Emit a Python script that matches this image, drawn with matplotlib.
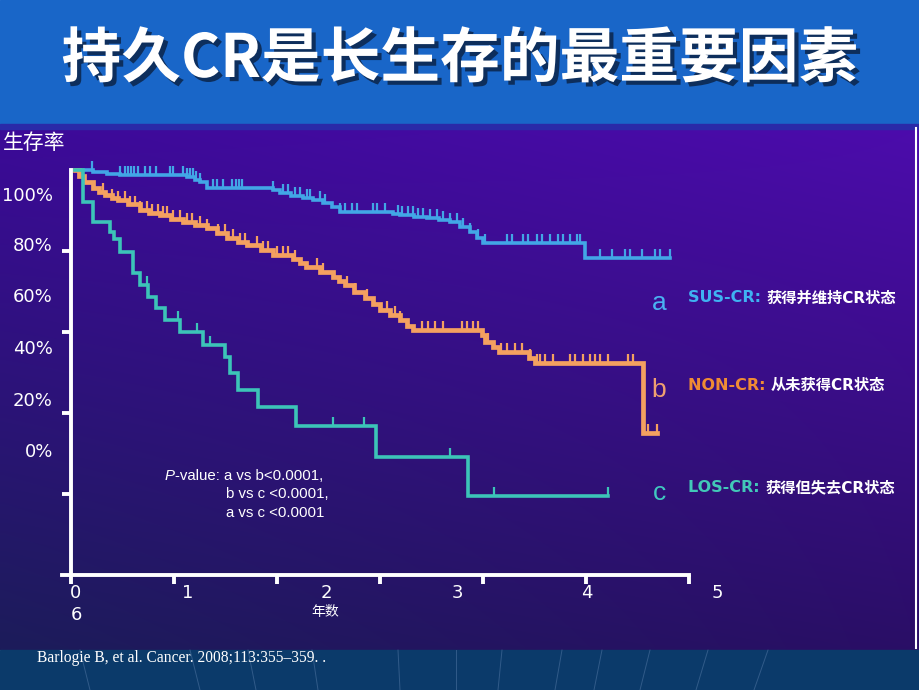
import numpy as np
import matplotlib
matplotlib.use("Agg")
import matplotlib.pyplot as plt
import matplotlib.patheffects as pe
from matplotlib.colors import to_rgb
from matplotlib.patches import Rectangle

plt.rcParams['font.family'] = ['DejaVu Sans', 'Noto Sans CJK SC']

W, H = 920, 690

# --- data (x in years on the tick scale, y = survival fraction) ---
sus_t = [0.04, 0.21, 0.35, 0.48, 1.13, 1.20, 1.25, 1.32, 1.96, 2.03, 2.14, 2.25, 2.35, 2.45,
         2.53, 2.61, 3.13, 3.19, 3.33, 3.46, 3.57, 3.68, 3.78, 3.87, 3.94, 4.00, 4.99, 5.82]
sus_s = [1.000, 0.995, 0.991, 0.988, 0.982, 0.976, 0.970, 0.956, 0.950, 0.943, 0.937, 0.931, 0.925, 0.919,
         0.908, 0.896, 0.892, 0.889, 0.885, 0.881, 0.877, 0.872, 0.860, 0.847, 0.833, 0.820, 0.783, 0.783]
sus_cens = [0.20, 0.48, 0.52, 0.55, 0.58, 0.61, 0.65, 0.72, 0.77, 0.83, 0.96, 0.99, 1.09, 1.13, 1.16,
            1.18, 1.21, 1.25, 1.38, 1.42, 1.48, 1.56, 1.60, 1.63, 1.66, 1.96, 2.06, 2.11, 2.17, 2.22,
            2.29, 2.32, 2.42, 2.47, 2.61, 2.66, 2.73, 2.78, 2.93, 2.97, 3.05, 3.17, 3.21, 3.27, 3.32,
            3.37, 3.42, 3.49, 3.55, 3.61, 3.68, 3.75, 3.81, 3.87, 3.95, 4.02, 4.23, 4.28, 4.39, 4.44,
            4.52, 4.57, 4.65, 4.73, 4.78, 4.84, 4.91, 4.94, 5.14, 5.25, 5.38, 5.43, 5.54, 5.67, 5.72, 5.82]

non_t = [0.04, 0.08, 0.13, 0.21, 0.27, 0.33, 0.40, 0.46, 0.55, 0.67, 0.76, 0.86, 0.97, 1.09, 1.20,
         1.32, 1.42, 1.51, 1.62, 1.71, 1.84, 1.96, 2.16, 2.22, 2.28, 2.42, 2.54, 2.60, 2.66, 2.75,
         2.85, 2.93, 3.00, 3.10, 3.19, 3.26, 3.32, 3.99, 4.02, 4.10, 4.16, 4.45, 4.50, 5.55, 5.69]
non_s = [1.000, 0.985, 0.970, 0.955, 0.945, 0.938, 0.932, 0.926, 0.915, 0.901, 0.895, 0.889, 0.880, 0.872, 0.865,
         0.857, 0.845, 0.832, 0.822, 0.815, 0.802, 0.790, 0.780, 0.770, 0.760, 0.748, 0.736, 0.726, 0.716, 0.700,
         0.684, 0.670, 0.654, 0.642, 0.630, 0.615, 0.605, 0.592, 0.575, 0.563, 0.551, 0.537, 0.523, 0.351, 0.351]
non_cens = [0.31, 0.40, 0.46, 0.52, 0.57, 0.62, 0.67, 0.74, 0.79, 0.84, 0.89, 0.93, 0.99, 1.06, 1.13,
            1.17, 1.25, 1.32, 1.43, 1.50, 1.57, 1.64, 1.69, 1.81, 1.86, 1.91, 2.00, 2.06, 2.11, 2.17,
            2.39, 2.45, 2.68, 2.76, 2.87, 3.07, 3.15, 3.19, 3.41, 3.47, 3.53, 3.61, 3.80, 3.84, 3.90,
            3.95, 4.05, 4.17, 4.23, 4.31, 4.38, 4.46, 4.52, 4.55, 4.60, 4.68, 4.84, 4.89, 4.97, 5.04,
            5.09, 5.14, 5.21, 5.41, 5.46, 5.60, 5.69]

los_t = [0.04, 0.12, 0.21, 0.38, 0.42, 0.48, 0.60, 0.67, 0.75, 0.83, 0.91, 1.06, 1.28, 1.50,
         1.54, 1.62, 1.82, 2.18, 2.96, 3.85, 5.21]
los_s = [1.000, 0.921, 0.872, 0.847, 0.830, 0.798, 0.746, 0.716, 0.686, 0.659, 0.630, 0.600, 0.568, 0.538,
         0.499, 0.457, 0.415, 0.368, 0.291, 0.195, 0.195]
los_cens = [0.74, 1.04, 1.22, 1.35, 1.50, 2.18, 2.54, 2.84, 3.68, 4.11, 5.21]

title = '持久CR是长生存的最重要因素'
y_labels = ['100%', '80%', '60%', '40%', '20%', '0%']
x_labels = ['0', '1', '2', '3', '4', '5']
groups = [('a', 'SUS-CR: ', '获得并维持CR状态'),
          ('b', 'NON-CR: ', '从未获得CR状态'),
          ('c', 'LOS-CR: ', '获得但失去CR状态')]

# --- layout (pixel positions of the slide) ---
X0, XS, Y0, YS = 71, 103, 575, 405
y_label_py = [196, 246, 297, 349, 401, 452]
x_label_px = [76, 188, 326, 457, 587, 717]
curve_col = ['#42a6e6', '#f4a060', '#3cc4b8']
key_col = ['#3fb2f2', '#f08c34', '#42c8b8']
letter_col = ['#4ab2f2', '#f0a070', '#40c8c0']
group_py = [300, 387, 490]


def fx(px):
    return px / W


def fy(py):
    return 1 - py / H


fig = plt.figure(figsize=(W / 100, H / 100), dpi=100)

# background
bg = fig.add_axes([0, 0, 1, 1], zorder=0)
bg.set_xlim(0, W)
bg.set_ylim(H, 0)
bg.axis('off')
c_tl, c_tr = np.array(to_rgb('#3c0a98')), np.array(to_rgb('#4c0cac'))
c_bl, c_br = np.array(to_rgb('#1c1c5a')), np.array(to_rgb('#2a0e66'))
u = np.linspace(0, 1, 120)[None, :, None]
v = np.linspace(0, 1, 120)[:, None, None]
img = (1 - u) * (1 - v) * c_tl + u * (1 - v) * c_tr + (1 - u) * v * c_bl + u * v * c_br
bg.imshow(img, extent=(0, W, 650, 128), aspect='auto', interpolation='bilinear')
bg.add_patch(Rectangle((0, 0), W, 124, color='#1966c8'))
bg.add_patch(Rectangle((0, 124), W, 5, color='#2a2aa8'))
bg.add_patch(Rectangle((0, 650), W, 40, color='#0b3a6a'))
for xt, xb in [(80, 90), (190, 200), (248, 256), (312, 318), (398, 400), (456, 456),
               (502, 498), (562, 555), (602, 594), (650, 640), (708, 696), (768, 754)]:
    bg.plot([xt, xb], [650, 690], color='#6a8cb8', lw=0.7, alpha=0.4)
bg.plot([916, 916], [128, 648], color='white', lw=1.5)

# title
fig.text(0.5, fy(60), title, ha='center', va='center', color='white', fontsize=43,
         fontweight='bold', family=['Noto Sans CJK SC'],
         path_effects=[pe.SimplePatchShadow(offset=(3, -3), shadow_rgbFace='#0c2850', alpha=0.9),
                       pe.Normal()])

# chart axes
ax = fig.add_axes([0, 0, 1, 1], zorder=1)
ax.patch.set_alpha(0)
ax.set_xlim(-X0 / XS, (W - X0) / XS)
ax.set_ylim((Y0 - H) / YS, Y0 / YS)
for s in ['top', 'right']:
    ax.spines[s].set_visible(False)
ax.spines['left'].set_position(('data', 0))
ax.spines['left'].set_bounds(0, 1.0)
ax.spines['bottom'].set_position(('data', 0))
ax.spines['bottom'].set_bounds(-0.09, 6.0)
for s in ['left', 'bottom']:
    ax.spines[s].set_color('white')
    ax.spines[s].set_linewidth(2.8)
ax.set_xticks(range(7))
ax.set_yticks([0.2, 0.4, 0.6, 0.8])
ax.tick_params(colors='white', width=2.8, length=6.5, direction='out',
               labelleft=False, labelbottom=False)


def km(t, s, cens, color, lw):
    t = np.asarray(t)
    s = np.asarray(s)
    ax.step(t, s, where='post', color=color, lw=lw, solid_joinstyle='miter')
    idx = np.searchsorted(t, cens, side='right') - 1
    ys = s[idx]
    ax.vlines(cens, ys, ys + 0.022, color=color, lw=1.6)


km(sus_t, sus_s, sus_cens, curve_col[0], 2.6)
km(non_t, non_s, non_cens, curve_col[1], 3.4)
km(los_t, los_s, los_cens, curve_col[2], 2.6)

# axis labels
for lab, py in zip(y_labels, y_label_py):
    fig.text(fx(53), fy(py), lab, ha='right', va='center', color='white', fontsize=13)
for lab, px in zip(x_labels, x_label_px):
    fig.text(fx(px), fy(593), lab, ha='center', va='center', color='white', fontsize=13)
fig.text(fx(76), fy(615), '6', ha='center', va='center', color='white', fontsize=13)
fig.text(fx(325), fy(612), '年数', ha='center', va='center', color='white', fontsize=10)
fig.text(fx(3), fy(143), '生存率', ha='left', va='center', color='white', fontsize=15)

# p-values
p1 = fig.text(fx(165), fy(476), 'P', style='italic', color='white', fontsize=10.8,
              family='Liberation Sans', va='center')
ax.annotate('-value: a vs b<0.0001,', xy=(1, 0.5), xycoords=p1, va='center', ha='left',
            color='white', fontsize=10.8, family='Liberation Sans')
fig.text(fx(226), fy(494), 'b vs c <0.0001,', color='white', fontsize=10.8,
         family='Liberation Sans', va='center')
fig.text(fx(226), fy(513), 'a vs c <0.0001', color='white', fontsize=10.8,
         family='Liberation Sans', va='center')

# group key
for i, (letter, key, desc) in enumerate(groups):
    py = group_py[i]
    fig.text(fx(659), fy(py + 3), letter, ha='center', va='center', color=letter_col[i],
             fontsize=19, family='Liberation Sans')
    k = fig.text(fx(688), fy(py - 2), key, color=key_col[i], fontsize=11.5, fontweight='bold',
                 va='center')
    ax.annotate(desc, xy=(1, 0.5), xycoords=k, va='center', ha='left', color='white',
                fontsize=11, fontweight='bold')

fig.text(fx(37), fy(658), 'Barlogie B, et al. Cancer. 2008;113:355\u2013359. .', color='white',
         fontsize=11.2, family='Liberation Serif', va='center')

fig.savefig('out.png', dpi=100)
